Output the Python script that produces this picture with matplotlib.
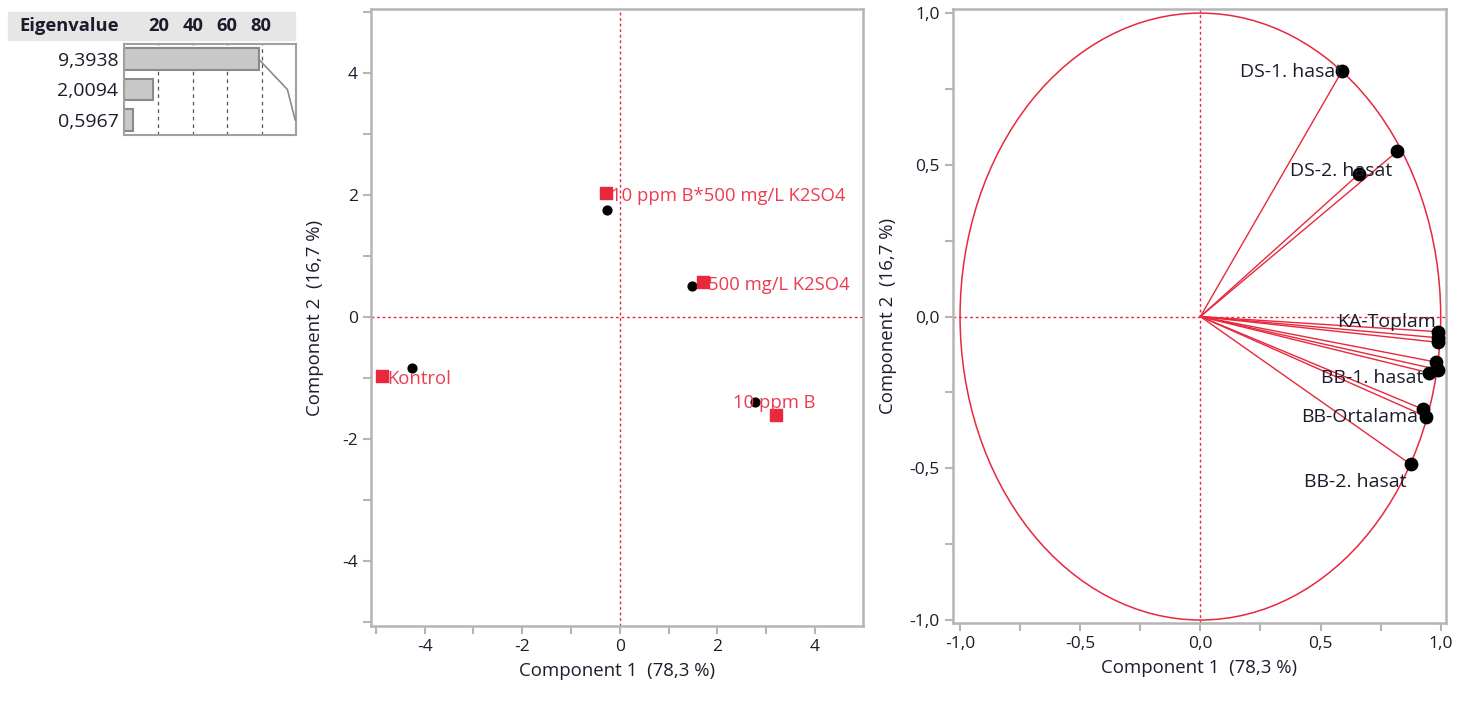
import numpy as np
import matplotlib
matplotlib.use("Agg")
import matplotlib.pyplot as plt
from matplotlib.patches import Ellipse, Rectangle
from matplotlib.ticker import FuncFormatter, MultipleLocator

plt.rcParams['font.family'] = ['Open Sans', 'DejaVu Sans']

# eigenvalue summary
eigenvalues = ["9,3938", "2,0094", "0,5967"]
percent = [78.3, 16.7, 5.0]
cum_percent = [78.3, 95.0, 99.5]

# score plot
groups = ["Kontrol", "10 ppm B", "500 mg/L K2SO4", "10 ppm B*500 mg/L K2SO4"]
score_x = [-4.25, 2.77, 1.48, -0.27]
score_y = [-0.84, -1.39, 0.51, 1.75]
mean_x = [-4.88, 3.20, 1.70, -0.29]
mean_y = [-0.97, -1.61, 0.57, 2.03]

# loading plot
load_names = ["DS-1. hasat", "DS-2. hasat", "", "KA-Toplam", "", "",
              "", "", "BB-1. hasat", "", "BB-Ortalama", "BB-2. hasat"]
load_x = [0.59, 0.82, 0.66, 0.99, 0.99, 0.99, 0.98, 0.99, 0.95, 0.925, 0.94, 0.875]
load_y = [0.81, 0.545, 0.47, -0.05, -0.07, -0.085, -0.15, -0.175, -0.185, -0.305, -0.33, -0.487]

RED = "#e8283c"
TXT_RED = "#ee3b50"
GRID = "#b5b5b5"
TXT = "#1c1c2c"

fig = plt.figure(figsize=(14.75, 7.04), dpi=100)


def style_axes(ax):
    for s in ax.spines.values():
        s.set_color(GRID)
        s.set_linewidth(1.8)
    ax.tick_params(which='both', direction='out', color=GRID, width=1.5,
                   labelcolor=TXT, labelsize=12.5)
    ax.tick_params(which='major', length=6)
    ax.tick_params(which='minor', length=6)


comma = FuncFormatter(lambda v, p: ("%.1f" % v).replace(".", ",").replace("\u2212", "-"))

# ---- score plot
ax1 = fig.add_axes([0.2515, 0.111, 0.3335, 0.876])
style_axes(ax1)
ax1.set_xlim(-5.1, 4.98)
ax1.set_ylim(-5.07, 5.05)
ax1.xaxis.set_major_locator(MultipleLocator(2))
ax1.yaxis.set_major_locator(MultipleLocator(2))
ax1.xaxis.set_minor_locator(MultipleLocator(1))
ax1.yaxis.set_minor_locator(MultipleLocator(1))
ax1.xaxis.set_major_formatter(FuncFormatter(lambda v, p: "%d" % v))
ax1.yaxis.set_major_formatter(FuncFormatter(lambda v, p: "%d" % v))
ax1.axvline(0, color=RED, ls=(0, (2, 2)), lw=1)
ax1.axhline(0, color=RED, ls=(0, (2, 2)), lw=1)
ax1.scatter(score_x, score_y, s=40, color="black", zorder=3)
ax1.scatter(mean_x, mean_y, s=70, marker="s", color=RED, zorder=3)
for i, g in enumerate(groups):
    if g == "10 ppm B":
        ax1.annotate(g, (mean_x[i], mean_y[i]), xytext=(-31, 9), textcoords='offset points',
                     color=TXT_RED, fontsize=13.3, va='center', ha='left')
    else:
        ax1.annotate(g, (mean_x[i], mean_y[i]), xytext=(4, -2), textcoords='offset points',
                     color=TXT_RED, fontsize=13.3, va='center', ha='left')
ax1.set_xlabel("Component 1  (78,3 %)", color=TXT, fontsize=13.4, labelpad=5)
ax1.set_ylabel("Component 2  (16,7 %)", color=TXT, fontsize=13.4, labelpad=13)

# ---- loading plot
ax2 = fig.add_axes([0.646, 0.115, 0.334, 0.872])
style_axes(ax2)
ax2.set_xlim(-1.03, 1.02)
ax2.set_ylim(-1.01, 1.013)
ax2.xaxis.set_major_locator(MultipleLocator(0.5))
ax2.yaxis.set_major_locator(MultipleLocator(0.5))
ax2.xaxis.set_minor_locator(MultipleLocator(0.25))
ax2.yaxis.set_minor_locator(MultipleLocator(0.25))
ax2.xaxis.set_major_formatter(comma)
ax2.yaxis.set_major_formatter(comma)
ax2.axvline(0, color=RED, ls=(0, (2, 2)), lw=1)
ax2.axhline(0, color=RED, ls=(0, (2, 2)), lw=1)
ax2.add_patch(Ellipse((0, 0), 2, 2, fill=False, edgecolor=RED, lw=1.1))
for x, y in zip(load_x, load_y):
    ax2.plot([0, x], [0, y], color=RED, lw=1)
ax2.scatter(load_x, load_y, s=80, color="black", zorder=3)
# label nudges in points (JMP places them loosely)
nudge = {"DS-1. hasat": (0, -1), "DS-2. hasat": (-4, -14), "KA-Toplam": (-2, 7),
         "BB-1. hasat": (-4, -4), "BB-Ortalama": (-6, 0), "BB-2. hasat": (-3, -13)}
for i, n in enumerate(load_names):
    if n:
        ax2.annotate(n, (load_x[i], load_y[i]), xytext=nudge[n], textcoords='offset points',
                     color=TXT, fontsize=14, va='center', ha='right')
ax2.set_xlabel("Component 1  (78,3 %)", color=TXT, fontsize=13.4, labelpad=5)
ax2.set_ylabel("Component 2  (16,7 %)", color=TXT, fontsize=13.4, labelpad=9)

# ---- eigenvalue table
fig.patches.append(Rectangle((8 / 1475, 1 - 40 / 704), 287 / 1475, 28 / 704,
                             transform=fig.transFigure, color="#e6e6e6", zorder=0))
fig.text(69 / 1475, 1 - 26 / 704, "Eigenvalue", ha='center', va='center',
         fontsize=13.2, fontweight='bold', color=TXT)
ax3 = fig.add_axes([124 / 1475, 1 - 135 / 704, 172 / 1475, 91 / 704])
for s in ax3.spines.values():
    s.set_color("#a0a0a0")
    s.set_linewidth(1.5)
ax3.set_xlim(0, 100)
ax3.set_ylim(2.5, -0.5)
rows = np.arange(len(percent))
ax3.barh(rows, percent, height=0.72, color="#c8c8c8", edgecolor="#8a8a8a", lw=1.5, zorder=2)
ax3.plot(cum_percent, rows, color="#8a8a8a", lw=1.2, zorder=3)
for v in [20, 40, 60, 80]:
    ax3.axvline(v, color="#555555", ls=(0, (3, 3)), lw=0.9, zorder=1)
    fig.text((125 + v * 1.7) / 1475, 1 - 26 / 704, str(v), ha='center', va='center',
             fontsize=13.2, fontweight='bold', color=TXT)
ax3.set_xticks([])
ax3.set_yticks(rows)
ax3.set_yticklabels(eigenvalues, fontsize=14, color=TXT)
ax3.tick_params(axis='y', length=0, pad=4)

fig.savefig("out.png", dpi=100)
